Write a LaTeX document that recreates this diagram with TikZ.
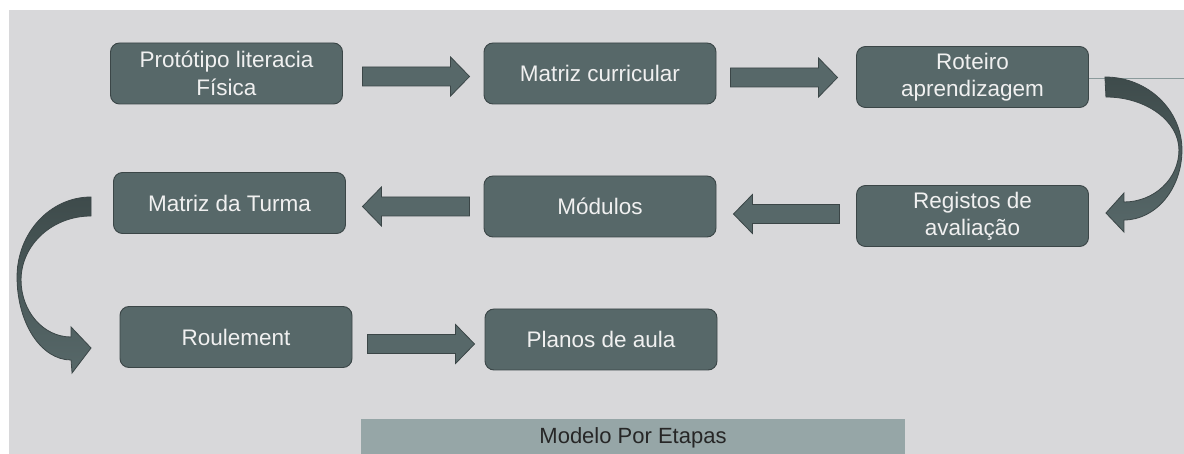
\documentclass[tikz,border=0pt]{standalone}
\usepackage{fontspec}
\setmainfont{Liberation Sans}
\usetikzlibrary{calc}

\definecolor{fundo}{HTML}{D8D8DA}
\definecolor{caixa}{HTML}{576869}
\definecolor{contorno}{HTML}{3B4647}
\definecolor{escuro}{HTML}{3E4B4B}
\definecolor{faixa}{HTML}{96A6A7}
\definecolor{linha}{HTML}{8A9A9B}

\tikzset{
  etapa/.style={draw=contorno, fill=caixa, line width=0.9pt, rounded corners=9pt,
    minimum width=232pt, minimum height=61pt, inner sep=0pt, align=center,
    text=white!94!black, font=\fontsize{22.5}{27.5}\selectfont},
  seta/.style={draw=contorno, fill=caixa, line width=0.8pt,
    to path={let \p1=(\tikztostart), \p2=(\tikztotarget), \n1={19*sign(\x2-\x1)} in
      (\x1,\y1+9.5pt) -- ({\x2-(\n1)},\y1+9.5pt) -- ({\x2-(\n1)},\y1+19.5pt) -- (\x2,\y1)
      -- ({\x2-(\n1)},\y1-19.5pt) -- ({\x2-(\n1)},\y1-9.5pt) -- (\x1,\y1-9.5pt) -- cycle}},
  curva/.style={draw=contorno, line width=0.8pt, top color=escuro, bottom color=caixa},
}

\begin{document}
\begin{tikzpicture}[x=1pt,y=-1pt]
  \useasboundingbox (0,0) rectangle (1184,454);
  %Background
  \fill[fundo] (9,10) rectangle (1184,454);

  % Row 1
  \node[etapa] (p1) at (226.5,73.5) {Protótipo literacia\\Física};
  \node[etapa] (p2) at (600,73.5) {Matriz curricular};
  \node[etapa] (p3) at (972.5,77) {Roteiro\\aprendizagem};
  % Row 2
  \node[etapa] (p4) at (972.5,216) {Registos de\\avaliação};
  \node[etapa] (p5) at (600,206.5) {Módulos};
  \node[etapa] (p6) at (229.5,203) {Matriz da Turma};
  % Row 3
  \node[etapa] (p7) at (236,337) {Roulement};
  \node[etapa] (p8) at (601,339.5) {Planos de aula};

  %Straight Lines
  \coordinate (borda) at (1184,79);
  \draw[linha, line width=1pt] ([yshift=-2pt]p3.east) -- (borda);

  %Block arrows
  \draw[seta] ([xshift=19.5pt,yshift=-3pt]p1.east) to ([xshift=-14pt]p2.west);
  \draw[seta] ([xshift=14pt,yshift=-4pt]p2.east) to ([xshift=-18.5pt]p3.west);
  \draw[seta] ([xshift=-16.5pt,yshift=2pt]p4.west) to ([xshift=17pt]p5.east);
  \draw[seta] ([xshift=-14pt]p5.west) to ([xshift=16.5pt]p6.east);
  \draw[seta] ([xshift=15pt,yshift=-7pt]p7.east) to ([xshift=-10pt]p8.west);

  %Shape: Curved arrow (p3 to p4)
  \begin{scope}[shift={(p3.east)}]
    \shade[curva] (16,0) .. controls (58.5,0) and (93,32.7) .. (93,73)
      .. controls (93,111.6) and (67,143) .. (35,143) -- (35,155) -- (17,136)
      -- (35,116) -- (35,125) .. controls (65,125) and (90,102) .. (90,73)
      .. controls (90,44) and (57,20) .. (17,20) -- cycle;
  \end{scope}
  %Shape: Curved arrow (p6 to p7)
  \begin{scope}[shift={(p6.west)}]
    \shade[curva] (-22,-6) .. controls (-63,-6) and (-96,30) .. (-96,74)
      .. controls (-96,120) and (-72,157) .. (-42,157) -- (-41,170) -- (-22,145)
      -- (-42,124) -- (-42,134) .. controls (-70,134) and (-92,108) .. (-92,77)
      .. controls (-92,42) and (-61,13) .. (-22,13) -- cycle;
  \end{scope}

  % Text Node
  \node[fill=faixa, minimum width=544pt, minimum height=38pt, inner sep=0pt,
    text=black!85, font=\fontsize{22}{26}\selectfont] (modelo) at (633,437.5) {Modelo Por Etapas};
\end{tikzpicture}
\end{document}
